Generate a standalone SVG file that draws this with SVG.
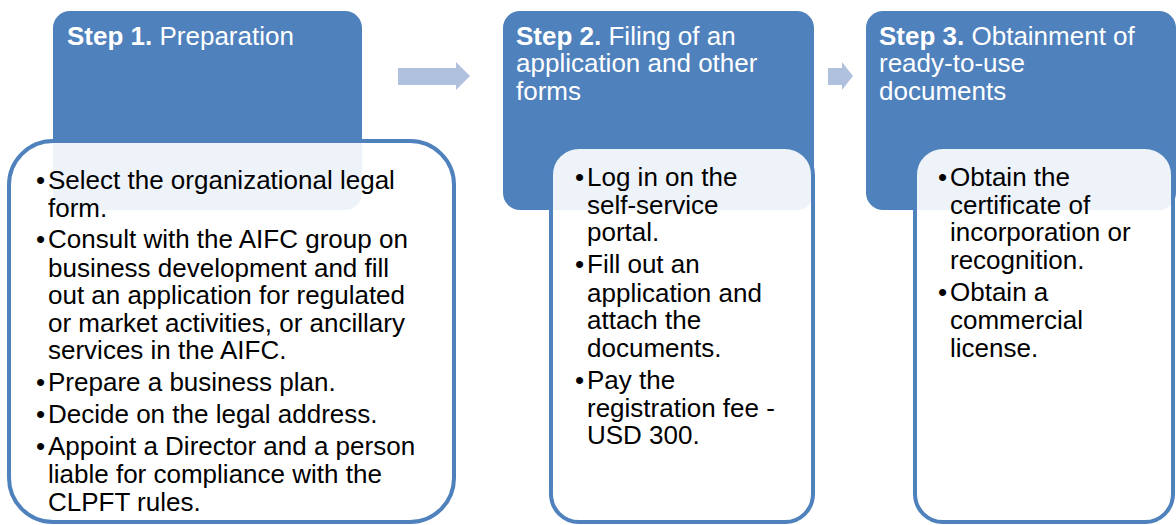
<svg xmlns="http://www.w3.org/2000/svg" width="1176" height="525" viewBox="0 0 1176 525">
  <style>
    .hdr { fill: #4F81BD; }
    .body { fill: #FFFFFF; fill-opacity: 0.9; stroke: #4F81BD; stroke-width: 4; }
    .arrow { fill: #AFC1DC; }
    .ht { font-family: "Liberation Sans", Arial, sans-serif; font-size: 26px; fill: #FFFFFF; }
    .b { font-weight: bold; }
    .bt { font-family: "Liberation Sans", Arial, sans-serif; font-size: 26px; fill: #000000; }
  </style>
  <rect width="1176" height="525" fill="#FFFFFF"/>

  <g id="connectors">
    <polygon class="arrow" points="398,68 456,68 456,62 470,76 456,90 456,85 398,85"/>
    <polygon class="arrow" points="828,68 842,68 842,62 853,76 842,90 842,85 828,85"/>
  </g>

  <g id="step1">
    <rect class="hdr" x="53" y="11" width="309" height="199" rx="17"/>
    <text class="ht" x="67" y="44.5"><tspan class="b">Step 1.</tspan> Preparation</text>
    <rect class="body" x="9" y="141" width="445" height="381" rx="44"/>
    <g class="bt">
      <text x="36" y="189">•</text>
      <text x="36" y="248">•</text>
      <text x="36" y="391">•</text>
      <text x="36" y="423">•</text>
      <text x="36" y="455">•</text>
      <text><tspan x="48" y="189">Select the organizational legal</tspan><tspan x="48" y="216.5">form.</tspan><tspan x="48" y="248">Consult with the AIFC group on</tspan><tspan x="48" y="276.5">business development and fill</tspan><tspan x="48" y="304">out an application for regulated</tspan><tspan x="48" y="331.5">or market activities, or ancillary</tspan><tspan x="48" y="359">services in the AIFC.</tspan><tspan x="48" y="391">Prepare a business plan.</tspan><tspan x="48" y="423">Decide on the legal address.</tspan><tspan x="48" y="455">Appoint a Director and a person</tspan><tspan x="48" y="483">liable for compliance with the</tspan><tspan x="48" y="511">CLPFT rules.</tspan></text>
    </g>
  </g>

  <g id="step2">
    <rect class="hdr" x="503" y="11" width="311" height="199" rx="17"/>
    <text class="ht"><tspan x="516" y="44.5"><tspan class="b">Step 2.</tspan> Filing of an</tspan><tspan x="516" y="72">application and other</tspan><tspan x="516" y="99.5">forms</tspan></text>
    <rect class="body" x="551" y="147" width="262" height="375" rx="28"/>
    <g class="bt">
      <text x="575" y="186">•</text>
      <text x="575" y="273">•</text>
      <text x="575" y="389">•</text>
      <text><tspan x="587" y="186">Log in on the</tspan><tspan x="587" y="213.5">self-service</tspan><tspan x="587" y="241">portal.</tspan><tspan x="587" y="273">Fill out an</tspan><tspan x="587" y="301.5">application and</tspan><tspan x="587" y="329">attach the</tspan><tspan x="587" y="356.5">documents.</tspan><tspan x="587" y="389">Pay the</tspan><tspan x="587" y="416.5">registration fee -</tspan><tspan x="587" y="444">USD 300.</tspan></text>
    </g>
  </g>

  <g id="step3">
    <rect class="hdr" x="866" y="11" width="310" height="199" rx="17"/>
    <text class="ht"><tspan x="879" y="44.5"><tspan class="b">Step 3.</tspan> Obtainment of</tspan><tspan x="879" y="72">ready-to-use</tspan><tspan x="879" y="99.5">documents</tspan></text>
    <rect class="body" x="915" y="147" width="258" height="375" rx="28"/>
    <g class="bt">
      <text x="938" y="186">•</text>
      <text x="938" y="301">•</text>
      <text><tspan x="950" y="186">Obtain the</tspan><tspan x="950" y="213.5">certificate of</tspan><tspan x="950" y="241">incorporation or</tspan><tspan x="950" y="268.5">recognition.</tspan><tspan x="950" y="301">Obtain a</tspan><tspan x="950" y="329">commercial</tspan><tspan x="950" y="356.5">license.</tspan></text>
    </g>
  </g>
</svg>
